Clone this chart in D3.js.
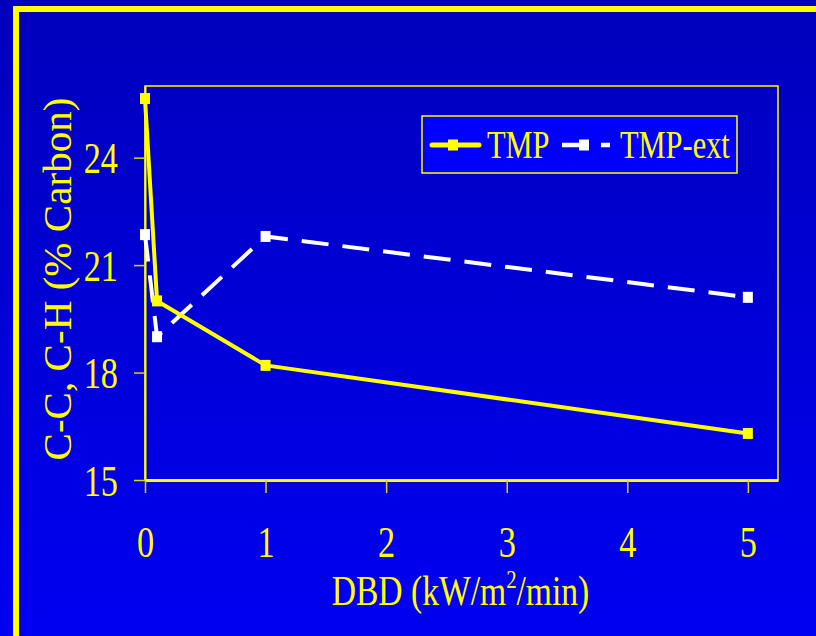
<!DOCTYPE html>
<html>
<head>
<meta charset="utf-8">
<script src="https://cdn.jsdelivr.net/npm/d3@7"></script>
<style>
  html, body { margin: 0; padding: 0; background: #0000d8; }
  svg { display: block; }
  text { font-family: "Liberation Serif", "Times New Roman", serif; fill: #ffff00; }
</style>
</head>
<body>
<svg id="chart" width="816" height="636"></svg>
<script>
// DBD dose (kW/m2/min)
var doses = [0, 0.1, 1, 5];
// C-C, C-H content (% carbon)
var tmpValues = [25.65, 20.0, 18.2, 16.3];
var tmpExtValues = [21.85, 19.0, 21.8, 20.1];
var seriesNames = ["TMP", "TMP-ext"];
var xTicks = [0, 1, 2, 3, 4, 5];
var yTicks = [15, 18, 21, 24];

var W = 816, H = 636;
var plotLeft = 145, plotRight = 778, plotTop = 86, plotBottom = 480;
var squeeze = 0.78; // the slide text is horizontally narrow

var svg = d3.select("#chart");

// background gradient, dark at top, brighter at bottom
var defs = svg.append("defs");
var grad = defs.append("linearGradient")
	.attr("id", "bg")
	.attr("x1", 0).attr("y1", 0).attr("x2", 0).attr("y2", 1);
grad.append("stop").attr("offset", "0%").attr("stop-color", "#0000bc");
grad.append("stop").attr("offset", "100%").attr("stop-color", "#0000f2");

svg.append("rect")
	.attr("width", W).attr("height", H)
	.attr("fill", "url(#bg)");

// slide frame
svg.append("rect")
	.attr("x", 16).attr("y", 9)
	.attr("width", W + 40).attr("height", H + 40)
	.attr("fill", "none")
	.attr("stroke", "#ffff00")
	.attr("stroke-width", 6);

var x = d3.scaleLinear().domain([0, 5.25]).range([plotLeft, plotRight]);
var y = d3.scaleLinear().domain([15, 26]).range([plotBottom, plotTop]);

// plot border
svg.append("rect")
	.attr("x", plotLeft).attr("y", plotTop)
	.attr("width", plotRight - plotLeft).attr("height", plotBottom - plotTop)
	.attr("fill", "none")
	.attr("stroke", "#ffff00")
	.attr("stroke-width", 1.5);

// x axis
var xAxis = svg.append("g")
	.attr("transform", "translate(0," + plotBottom + ")")
	.call(d3.axisBottom(x).tickValues(xTicks).tickSize(13).tickSizeOuter(0).tickFormat(d3.format("d")));
xAxis.select(".domain").attr("stroke", "#ffff00").attr("stroke-width", 3);
xAxis.selectAll(".tick line").attr("stroke", "#d8d800").attr("stroke-width", 1.5);
xAxis.selectAll(".tick text")
	.attr("y", 77).attr("dy", 0)
	.attr("transform", "scale(" + squeeze + ",1)")
	.style("font-size", "44px")
	.attr("fill", "#ffff00");

// y axis
var yAxis = svg.append("g")
	.attr("transform", "translate(" + plotLeft + ",0)")
	.call(d3.axisLeft(y).tickValues(yTicks).tickSize(11).tickSizeOuter(0).tickFormat(d3.format("d")));
yAxis.select(".domain").attr("stroke", "#ffff00").attr("stroke-width", 2);
yAxis.selectAll(".tick line").attr("stroke", "#d8d800").attr("stroke-width", 1.5);
yAxis.selectAll(".tick text")
	.attr("x", -27 / squeeze).attr("dy", 15)
	.attr("transform", "scale(" + squeeze + ",1)")
	.style("font-size", "44px")
	.attr("fill", "#ffff00");

// axis titles
var xSqueeze = 0.8;
var xTitle = svg.append("text")
	.attr("x", ((plotLeft + plotRight) / 2 - 1) / xSqueeze)
	.attr("y", 605)
	.attr("text-anchor", "middle")
	.attr("transform", "scale(" + xSqueeze + ",1)")
	.style("font-size", "42px");
xTitle.append("tspan").text("DBD (kW/m");
xTitle.append("tspan").attr("dy", -17).style("font-size", "26px").text("2");
xTitle.append("tspan").attr("dy", 17).text("/min)");

svg.append("text")
	.attr("transform", "translate(71," + 279 + ") rotate(-90)")
	.attr("text-anchor", "middle")
	.style("font-size", "41px")
	.attr("textLength", 363)
	.attr("lengthAdjust", "spacing")
	.text("C-C, C-H (% Carbon)");

// series
var line = d3.line()
	.x(function(d) { return x(d[0]); })
	.y(function(d) { return y(d[1]); });

var extData = doses.map(function(d, i) { return [d, tmpExtValues[i]]; });
var tmpData = doses.map(function(d, i) { return [d, tmpValues[i]]; });

svg.append("path")
	.datum(extData)
	.attr("d", line)
	.attr("fill", "none")
	.attr("stroke", "#ffffff")
	.attr("stroke-width", 4)
	.attr("stroke-dasharray", "27,14");

svg.selectAll(".extMark").data(extData).enter().append("rect")
	.attr("class", "extMark")
	.attr("x", function(d) { return x(d[0]) - 5; })
	.attr("y", function(d) { return y(d[1]) - 5.5; })
	.attr("width", 10).attr("height", 11)
	.attr("fill", "#ffffff");

svg.append("path")
	.datum(tmpData)
	.attr("d", line)
	.attr("fill", "none")
	.attr("stroke", "#ffff00")
	.attr("stroke-width", 4)
	.attr("stroke-linejoin", "round");

svg.selectAll(".tmpMark").data(tmpData).enter().append("rect")
	.attr("class", "tmpMark")
	.attr("x", function(d) { return x(d[0]) - 5; })
	.attr("y", function(d) { return y(d[1]) - 5.5; })
	.attr("width", 10).attr("height", 11)
	.attr("fill", "#ffff00");

// legend
var legend = svg.append("g");
legend.append("rect")
	.attr("x", 422).attr("y", 116)
	.attr("width", 315).attr("height", 57)
	.attr("fill", "#0000ff")
	.attr("stroke", "#ffff00")
	.attr("stroke-width", 1.5);

legend.append("line")
	.attr("x1", 432).attr("x2", 479).attr("y1", 145).attr("y2", 145)
	.attr("stroke", "#ffff00").attr("stroke-width", 5).attr("stroke-linecap", "round");
legend.append("rect")
	.attr("x", 448).attr("y", 139.5).attr("width", 10).attr("height", 11)
	.attr("fill", "#ffff00");
legend.append("text")
	.attr("x", 487 / squeeze).attr("y", 158)
	.attr("transform", "scale(" + squeeze + ",1)")
	.style("font-size", "39px")
	.text(seriesNames[0]);

legend.append("line")
	.attr("x1", 562).attr("x2", 610).attr("y1", 145).attr("y2", 145)
	.attr("stroke", "#ffffff").attr("stroke-width", 4.5)
	.attr("stroke-dasharray", "26,13");
legend.append("rect")
	.attr("x", 579).attr("y", 139.5).attr("width", 10).attr("height", 11)
	.attr("fill", "#ffffff");
legend.append("text")
	.attr("x", 620 / squeeze).attr("y", 158)
	.attr("transform", "scale(" + squeeze + ",1)")
	.style("font-size", "39px")
	.text(seriesNames[1]);
</script>
</body>
</html>
